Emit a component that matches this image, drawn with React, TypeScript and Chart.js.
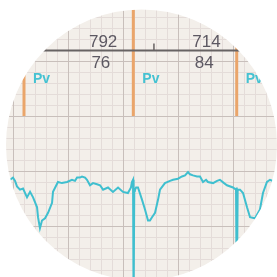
import React, { useEffect, useRef } from 'react';
import { Chart, registerables } from 'chart.js';

Chart.register(...registerables);

// ECG trace: time (ms) and amplitude (small grid boxes)
const ecgTime = [-58, -22, 0, 15, 29, 51, 73, 102, 124, 146, 175, 182, 196, 211, 233, 255, 284, 291, 327, 356, 393, 429, 451, 466, 487, 502, 524, 538, 560, 582, 611, 633, 655, 691, 727, 764, 800, 836, 858, 865, 873, 877, 882, 887, 895, 909, 938, 960, 982, 996, 1011, 1033, 1055, 1069, 1105, 1142, 1164, 1200, 1229, 1251, 1273, 1287, 1309, 1338, 1360, 1382, 1404, 1418, 1455, 1484, 1505, 1535, 1556, 1600, 1622, 1626, 1629, 1634, 1651, 1673, 1702, 1724, 1760, 1796, 1818, 1847, 1869, 1906, 1942];
const ecgValue = [-1.1, -0.8, -0.6, -0.9, -1.4, -1.7, -1.6, -2.4, -1.9, -2.4, -3.3, -4.2, -5.2, -4.5, -4.3, -3.8, -2.9, -1.9, -1.0, -1.1, -1.0, -0.8, -0.9, -0.6, -0.6, -0.5, -0.6, -0.8, -1.3, -1.1, -1.2, -1.3, -1.7, -1.5, -1.9, -1.5, -1.9, -2.0, -1.5, -1.0, -0.8, -12, -1.8, -1.7, -1.5, -1.5, -2.6, -3.5, -4.5, -4.5, -4.2, -3.8, -2.6, -1.7, -1.1, -0.9, -0.8, -0.7, -0.5, -0.4, -0.1, -0.3, -0.4, -0.5, -0.5, -1.0, -0.8, -1.0, -1.1, -0.9, -0.8, -1.1, -1.3, -1.5, -1.7, -1.5, -12, -1.7, -1.7, -2.0, -3.3, -4.2, -4.3, -3.5, -2.0, -1.0, -0.8, -1.0, -1.3];

// Beat annotations
const beatTime = [80, 875, 1627];
const beatLabel = ['Pv', 'Pv', 'Pv'];
const rrText = ['792', '714'];
const hrText = ['76', '84'];
const markTime = [1025];

const X_MIN = -94.5;
const X_MAX = 1920;
const Y_MIN = -9.64;
const Y_MAX = 15.55;
const GRID_X_MINOR = 80;
const GRID_X_MAJOR = 400;
const GRID_Y_MINOR = 1;
const GRID_Y_MAJOR = 5;
const ANNOT_Y = 10.95;
const BEAT_BOTTOM = 5;

const ecgPlugin = {
  id: 'ecgDecor',
  beforeDatasetsDraw(chart: any) {
    const { ctx, scales, width, height } = chart;
    const xs = scales.x;
    const ys = scales.y;
    ctx.save();
    ctx.fillStyle = '#f3efea';
    ctx.fillRect(0, 0, width, height);

    const drawGrid = (major: boolean) => {
      ctx.strokeStyle = major ? '#c8bfbb' : '#e4dcd9';
      ctx.lineWidth = 1;
      ctx.beginPath();
      for (let t = Math.ceil(X_MIN / GRID_X_MINOR) * GRID_X_MINOR; t <= X_MAX; t += GRID_X_MINOR) {
        const isMajor = Math.abs(t % GRID_X_MAJOR) < 1e-6;
        if (isMajor !== major) continue;
        const px = Math.round(xs.getPixelForValue(t)) + 0.5;
        ctx.moveTo(px, 0);
        ctx.lineTo(px, height);
      }
      for (let v = Math.ceil(Y_MIN / GRID_Y_MINOR) * GRID_Y_MINOR; v <= Y_MAX; v += GRID_Y_MINOR) {
        const isMajor = Math.abs(v % GRID_Y_MAJOR) < 1e-6;
        if (isMajor !== major) continue;
        const py = Math.round(ys.getPixelForValue(v)) + 0.5;
        ctx.moveTo(0, py);
        ctx.lineTo(width, py);
      }
      ctx.stroke();
    };
    drawGrid(false);
    drawGrid(true);

    // beat marker lines
    const bottom = ys.getPixelForValue(BEAT_BOTTOM);
    ctx.strokeStyle = '#eaa56a';
    ctx.lineWidth = 3;
    beatTime.forEach((t) => {
      const px = xs.getPixelForValue(t);
      ctx.beginPath();
      ctx.moveTo(px, 0);
      ctx.lineTo(px, bottom);
      ctx.stroke();
    });

    // annotation axis
    const ay = ys.getPixelForValue(ANNOT_Y);
    ctx.strokeStyle = '#676363';
    ctx.lineWidth = 2;
    ctx.beginPath();
    ctx.moveTo(0, ay);
    ctx.lineTo(width, ay);
    ctx.stroke();

    ctx.lineWidth = 1.5;
    markTime.forEach((t) => {
      const px = xs.getPixelForValue(t);
      ctx.beginPath();
      ctx.moveTo(px, ay - 7);
      ctx.lineTo(px, ay);
      ctx.stroke();
    });

    ctx.fillStyle = '#5c5862';
    ctx.font = '17px "Liberation Sans", Arial, sans-serif';
    ctx.textAlign = 'right';
    rrText.forEach((s, i) => {
      const px = xs.getPixelForValue(beatTime[i + 1]);
      ctx.textBaseline = 'alphabetic';
      ctx.fillText(s, px - 16, ay - 4);
    });
    hrText.forEach((s, i) => {
      const px = xs.getPixelForValue(beatTime[i + 1]);
      ctx.textBaseline = 'top';
      ctx.fillText(s, px - 23, ay + 4);
    });

    ctx.fillStyle = '#45c2d2';
    ctx.font = 'bold 14px "Liberation Sans", Arial, sans-serif';
    ctx.textAlign = 'left';
    ctx.textBaseline = 'middle';
    beatLabel.forEach((s, i) => {
      const px = xs.getPixelForValue(beatTime[i]);
      ctx.fillText(s, px + 9, ay + 29);
    });
    ctx.restore();
  },
  afterDraw(chart: any) {
    const { ctx, width, height } = chart;
    ctx.save();
    ctx.fillStyle = '#ffffff';
    ctx.beginPath();
    ctx.rect(0, 0, width, height);
    ctx.arc(141.5, 145, 135.5, 0, Math.PI * 2);
    ctx.fill('evenodd');
    ctx.restore();
  },
};

export default function App() {
  const ref = useRef<HTMLCanvasElement | null>(null);
  useEffect(() => {
    if (!ref.current) return;
    const chart = new Chart(ref.current, {
      type: 'line',
      data: {
        datasets: [
          {
            data: ecgTime.map((t, i) => ({ x: t, y: ecgValue[i] })),
            borderColor: '#3fbfcf',
            borderWidth: 2,
            pointRadius: 0,
            tension: 0,
            fill: false,
          },
        ],
      },
      options: {
        animation: false,
        responsive: false,
        events: [],
        layout: { padding: 0 },
        plugins: { legend: { display: false }, tooltip: { enabled: false } },
        scales: {
          x: { type: 'linear', min: X_MIN, max: X_MAX, display: false },
          y: { type: 'linear', min: Y_MIN, max: Y_MAX, display: false },
        },
      },
      plugins: [ecgPlugin],
    });
    return () => chart.destroy();
  }, []);
  return (
    <div style={{ position: 'fixed', left: 0, top: 0, width: 277, height: 277, background: '#ffffff' }}>
      <canvas ref={ref} width={277} height={277} style={{ width: 277, height: 277, display: 'block', filter: 'blur(0.5px)' }} />
    </div>
  );
}
